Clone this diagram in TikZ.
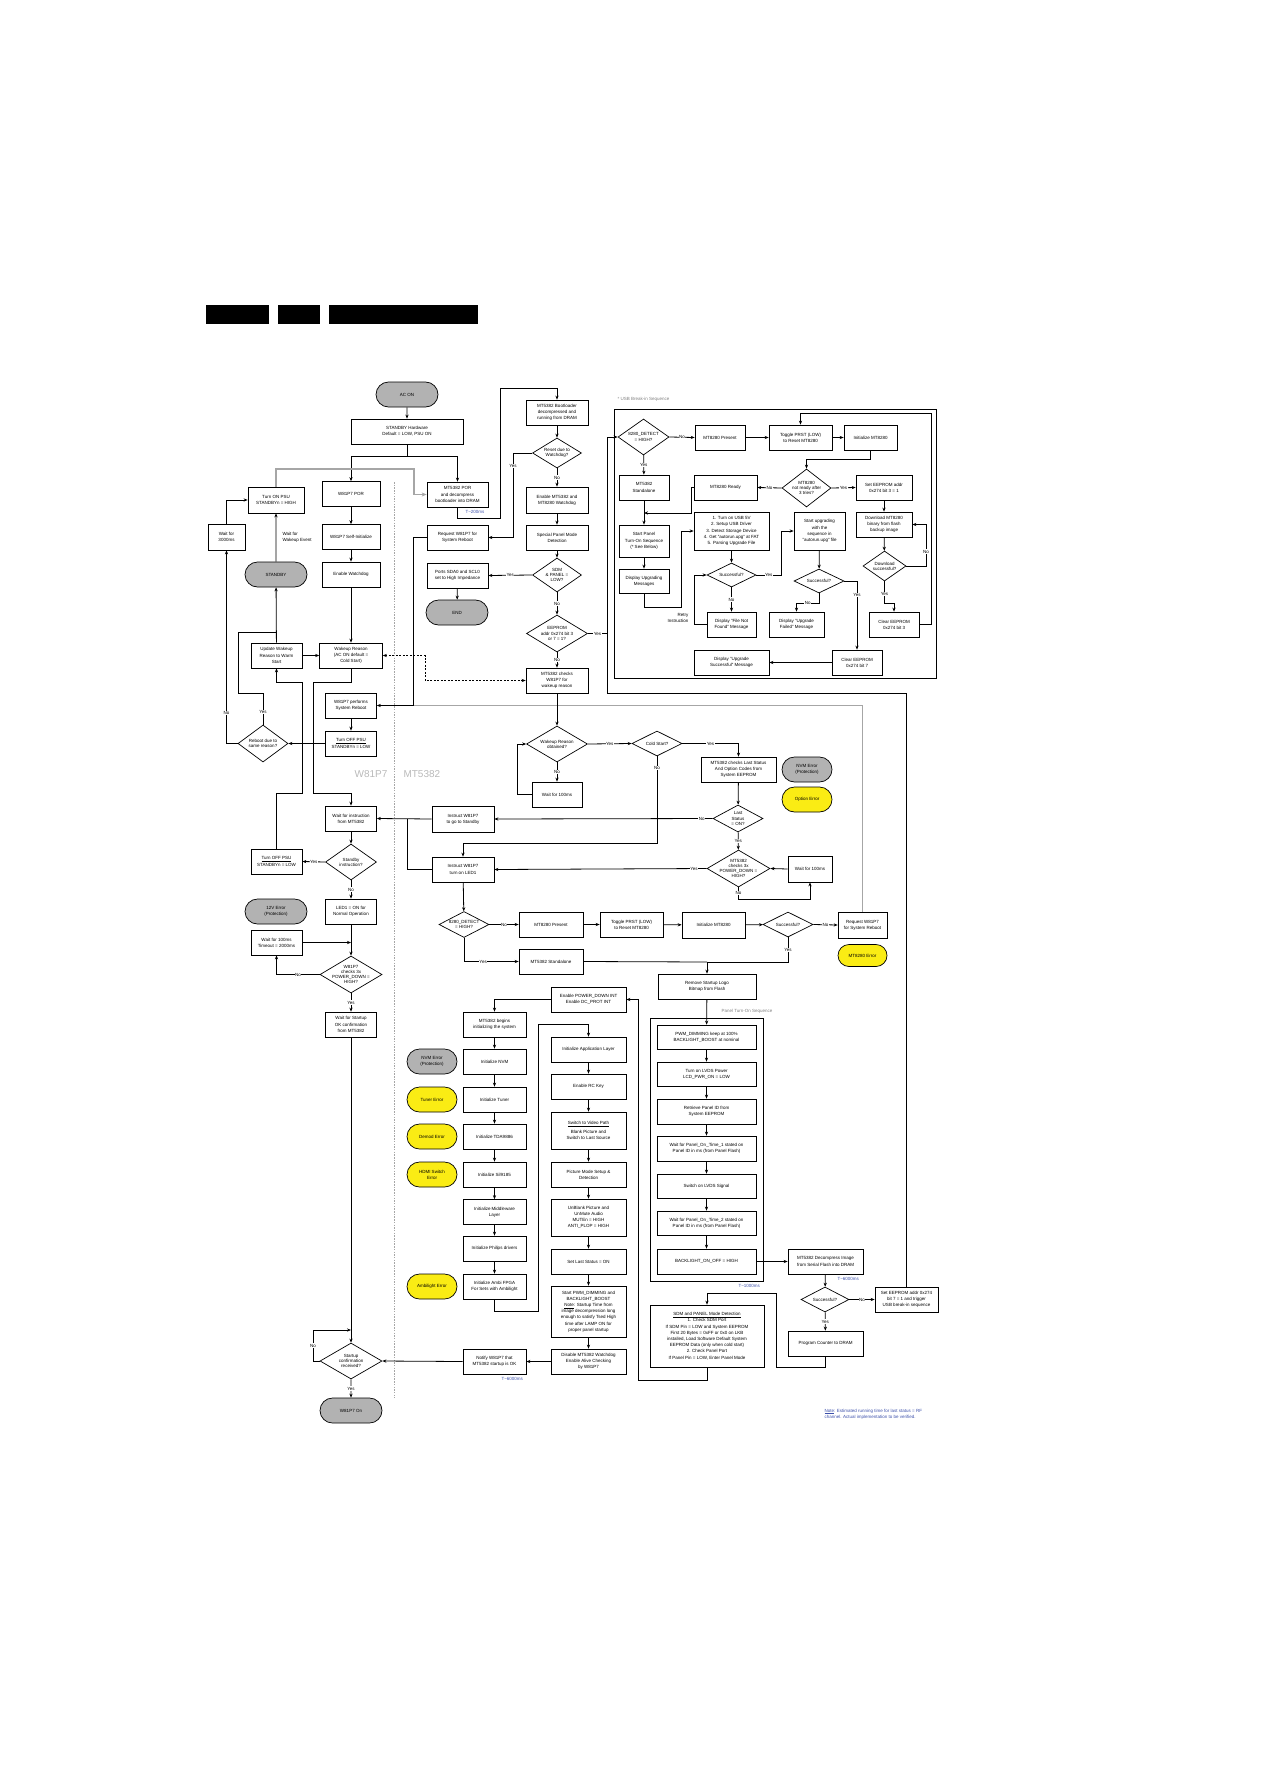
\documentclass[tikz,border=0pt]{standalone}
\usepackage{fontspec}
\setmainfont{Liberation Sans}
\usetikzlibrary{shapes.geometric,shapes.misc,arrows.meta}
\definecolor{tyel}{RGB}{250,236,20}
\definecolor{tblue}{RGB}{60,80,170}
\tikzset{
 every node/.style={font=\fontsize{4.5}{6.2}\selectfont},
 bx/.style={draw, line width=0.7pt, rectangle, inner sep=0pt, align=center, fill=white},
 tm/.style={draw, line width=0.7pt, rounded rectangle, inner sep=0pt, align=center, fill=gray!60},
 ty/.style={tm, fill=tyel},
 dm/.style={draw, line width=0.7pt, diamond, inner sep=0pt, fill=white},
 dl/.style={align=center, inner sep=0pt, font=\fontsize{4.5}{5.2}\selectfont},
 ln/.style={line width=0.8pt},
 ar/.style={ln, -{Stealth[length=4pt,width=3.2pt]}},
 yn/.style={fill=white, inner sep=0.5pt},
 gr/.style={line width=1.6pt, draw=gray!70},
 bl/.style={text=tblue, anchor=west},
}
\newcommand\bxn[6]{\node[bx,minimum width=#4pt,minimum height=#5pt] (#1) at (#2,#3) {#6};}
\newcommand\dmn[6]{\node[dm,minimum width=#4pt,minimum height=#5pt,label={[dl]center:{#6}}] (#1) at (#2,#3) {};}
\newcommand\tmn[7]{\node[#1,minimum width=#5pt,minimum height=#6pt] (#2) at (#3,#4) {#7};}
\begin{document}
\begin{tikzpicture}[x=1pt,y=-1pt]
\useasboundingbox (0,0) rectangle (1263,1787);
% header bars
\fill (206,305) rectangle (269,324);
\fill (278,305) rectangle (320,324);
\fill (329,305) rectangle (478,324);
% divider
\draw[gray!70, line width=0.6pt, dash pattern=on 1.5pt off 1.2pt] (394,482) -- (394,1398);
\node[font=\fontsize{10}{12}\selectfont, text=gray!55, anchor=east] (lw) at (391,774) {W81P7};
\node[font=\fontsize{10}{12}\selectfont, text=gray!55, anchor=west] (lm) at (400,774) {MT5382};
% frames
\draw[line width=0.8pt] (614,409) rectangle (936,678);
\node[text=gray, anchor=west] (lusb) at (614,399) {* USB Break-in Sequence};
\draw[line width=0.8pt] (650,1018) rectangle (763,1281);
\node[text=gray, anchor=west] (lpan) at (718,1011) {Panel Turn-On Sequence};

% ---------- W81P7 column
\tmn{tm}{acon}{407}{394.5}{62}{25}{AC ON}
\bxn{stdhw}{407}{431.5}{112}{25}{STANDBY Hardware\\Default = LOW, PSU ON}
\bxn{wpor}{351}{494}{58}{25}{W81P7 POR}
\bxn{wsi}{351}{537}{58}{25}{W81P7 Self-Initialize}
\bxn{ewd}{351}{574.5}{58}{25}{Enable Watchdog}
\bxn{ton}{276}{500}{56}{26}{Turn ON PSU\\STANDBYn = HIGH}
\bxn{w3000}{226.5}{537}{37}{26}{Wait for\\3000ms}
\tmn{tm}{stby}{276}{574.5}{62}{25}{STANDBY}
\node[align=left,anchor=west] (wwe) at (279,537.5) {Wait for\\Wakeup Event};
\bxn{mpor}{457.5}{494.5}{61}{25}{MT5382 POR\\and decompress\\bootloader into DRAM}
\node[bl] (t200) at (462,512) {T\textasciitilde200ms};
\bxn{rqr}{457.5}{537.5}{61}{25}{Request W81P7 for\\System Reboot}
\bxn{prt}{457.5}{575.5}{61}{25}{Ports SDA0 and SCL0\\set to High Impedance}
\tmn{tm}{endt}{457}{612.5}{62}{25}{END}
\bxn{boot}{557}{412.5}{62}{25}{MT5382 Bootloader\\decompressed and\\running from DRAM}
\dmn{rwd}{557}{453}{49}{30}{Reset due to\\Watchdog?}
\bxn{enwd}{557}{500}{62}{26}{Enable MT5382 and\\MT8280 Watchdog}
\bxn{spmd}{557}{537.5}{62}{25}{Special Panel Mode\\Detection}
\dmn{sdm}{557}{575}{49}{34}{SDM\\\& PANEL =\\LOW?}
\dmn{eep}{557}{633.5}{61}{37}{EEPROM\\addr 0x274 bit 3\\or 7 = 1?}
\bxn{chk}{557}{680.5}{62}{25}{MT5382 checks\\W81P7 for\\wakeup reason}
\bxn{upd}{276.5}{655.5}{51}{25}{Update Wakeup\\Reason to Warm\\Start}
\bxn{wkr}{351}{655.5}{63}{25}{Wakeup Reason\\(AC ON default =\\Cold Start)}
\bxn{perf}{351}{705.5}{51}{25}{W81P7 performs\\System Reboot}
\bxn{off1}{351}{743.5}{51}{25}{\underline{Turn OFF PSU}\\STANDBYn = LOW}
\dmn{rbd}{263}{743.5}{50}{37}{Reboot due to\\same reason?}
\bxn{wins}{351}{818.5}{51}{25}{Wait for instruction\\from MT5382}
\dmn{stq}{351}{862}{51}{36}{Standby\\instruction?}
\bxn{off2}{276.5}{861.5}{51}{25}{\underline{Turn OFF PSU}\\STANDBYn = LOW}
\bxn{led}{351}{911.5}{51}{25}{LED1 = ON for\\Normal Operation}
\tmn{tm}{e12}{276}{911.5}{62}{25}{12V Error\\(Protection)}
\bxn{w100a}{276.5}{942.5}{51}{25}{Wait for 100ms\\Timeout = 2000ms}
\dmn{pdq}{351}{974.5}{62}{37}{W81P7\\checks 3x\\POWER\_DOWN =\\HIGH?}
\bxn{wso}{351}{1024.5}{51}{25}{Wait for Startup\\OK confirmation\\from MT5382}
\dmn{scr}{351}{1361}{62}{36}{Startup\\confirmation\\received?}
\tmn{tm}{won}{351}{1410.5}{62}{25}{W81P7 On}

% ---------- USB break-in frame
\dmn{d1}{643.5}{437}{51}{36}{8280\_DETECT\\= HIGH?}
\bxn{pr1}{720}{437.5}{50}{25}{MT8280 Present}
\bxn{tg1}{800.5}{437.5}{63}{25}{Toggle PRST (LOW)\\to Reset MT8280}
\bxn{in1}{870.5}{437.5}{53}{25}{Initialize MT8280}
\dmn{nr}{806.5}{488}{49}{38}{MT8280\\not ready after\\3 tries?}
\bxn{rdy}{725.5}{487.5}{63}{25}{MT8280 Ready}
\bxn{se3}{884}{487.5}{56}{25}{Set EEPROM addr\\0x274 bit 3 = 1}
\bxn{dl}{884}{524.5}{56}{25}{Download MT8280\\binary from flash\\backup image}
\dmn{dlq}{884.5}{566}{43}{30}{Download\\successful?}
\bxn{cl3}{894}{624.5}{50}{25}{Clear EEPROM\\0x274 bit 3}
\bxn{sa1}{644}{487.5}{50}{25}{MT5382\\Standalone}
\bxn{spt}{644}{541}{50}{32}{Start Panel\\Turn-On Sequence\\(* See Below)}
\bxn{dum}{644}{581}{50}{24}{Display Upgrading\\Messages}
\bxn{usb}{731.5}{531}{75}{38}{1. Turn on USB 5V\\2. Setup USB Driver\\3. Detect Storage Device\\4. Get "autorun.upg" at FAT\\5. Parsing Upgrade File}
\dmn{sq1}{731.5}{575}{49}{24}{Successful?}
\bxn{fnf}{731.5}{624.5}{49}{25}{Display "File Not\\Found" Message}
\bxn{sup}{819.5}{531}{51}{38}{Start upgrading\\with the\\sequence in\\"autorun.upg" file}
\dmn{sq2}{819}{581}{50}{24}{Successful?}
\bxn{upf}{796.5}{624.5}{55}{25}{Display "Upgrade\\Failed" Message}
\bxn{cl7}{857}{662.5}{50}{25}{Clear EEPROM\\0x274 bit 7}
\bxn{ups}{731.5}{662.5}{75}{25}{Display "Upgrade\\Successful" Message}
\node[align=right,anchor=east] (retry) at (692,618) {Retry\\Instruction};

% ---------- middle
\dmn{wro}{557}{744}{61}{36}{Wakeup Reason\\obtained?}
\bxn{w100b}{557}{794.5}{50}{25}{Wait for 100ms}
\dmn{cold}{657}{743.5}{50}{25}{Cold Start?}
\bxn{lsc}{738.5}{769.5}{75}{25}{MT5382 checks Last Status\\And Option Codes from\\System EEPROM}
\tmn{tm}{nvm1}{807}{769.5}{50}{25}{NVM Error\\(Protection)}
\tmn{ty}{opt}{807}{799.5}{50}{25}{Option Error}
\dmn{lsq}{738}{818.5}{50}{27}{Last\\Status\\= ON?}
\bxn{ist}{463}{819}{62}{26}{Instruct W81P7\\to go to Standby}
\bxn{ild}{463}{869.5}{62}{25}{Instruct W81P7\\turn on LED1}
\dmn{pdm}{738.5}{868.5}{63}{37}{MT5382\\checks 3x\\POWER\_DOWN =\\HIGH?}
\bxn{w100c}{810}{869}{44}{26}{Wait for 100ms}
\dmn{d2}{464}{924.5}{50}{26}{8280\_DETECT\\= HIGH?}
\bxn{pr2}{551}{924.5}{64}{25}{MT8280 Present}
\bxn{tg2}{631.5}{924.5}{63}{25}{Toggle PRST (LOW)\\to Reset MT8280}
\bxn{in2}{713.5}{925}{63}{26}{Initialize MT8280}
\dmn{sq3}{788}{924.5}{50}{25}{Successful?}
\bxn{rq2}{862.5}{925}{49}{26}{Request W81P7\\for System Reboot}
\tmn{ty}{e80}{862.5}{955.5}{49}{22}{MT8280 Error}
\bxn{sa2}{551}{961.5}{64}{25}{MT5382 Standalone}
\bxn{rsl}{707}{986.5}{98}{25}{Remove Startup Logo\\Bitmap from Flash}
\bxn{epd}{588.5}{999.5}{75}{25}{Enable POWER\_DOWN INT\\Enable DC\_PROT INT}
\bxn{beg}{494.5}{1024.5}{63}{25}{MT5382 begins\\initializing the system}
\bxn{inv}{494.5}{1061.5}{63}{25}{Initialize NVM}
\bxn{itu}{494.5}{1099.5}{63}{25}{Initialize Tuner}
\bxn{itd}{494.5}{1136.5}{63}{25}{Initialize TDA9886}
\bxn{isi}{494.5}{1174.5}{63}{25}{Initialize Sil9185}
\bxn{imw}{494.5}{1212}{63}{25}{Initialize Middleware\\Layer}
\bxn{iph}{494.5}{1248.5}{63}{25}{Initialize Philips drivers}
\bxn{iam}{494.5}{1286.5}{63}{25}{Initialize Ambi FPGA\\For Sets with Ambilight}
\tmn{tm}{env}{432}{1061.5}{50}{25}{NVM Error\\(Protection)}
\tmn{ty}{etu}{432}{1099.5}{50}{25}{Tuner Error}
\tmn{ty}{ede}{432}{1136.5}{50}{25}{Demod Error}
\tmn{ty}{ehd}{432}{1174.5}{50}{25}{HDMI Switch\\Error}
\tmn{ty}{eam}{432}{1286.5}{50}{25}{Ambilight Error}
\bxn{app}{588.5}{1049.5}{75}{25}{Initialize Application Layer}
\bxn{rck}{588.5}{1086.5}{75}{25}{Enable RC Key}
\bxn{vid}{588.5}{1130.5}{75}{37}{\underline{Switch to Video Path}\\[3pt]Blank Picture and\\Switch to Last Source}
\bxn{pmd}{588.5}{1174.5}{75}{25}{Picture Mode Setup \&\\Detection}
\bxn{unb}{588.5}{1217.5}{75}{37}{UnBlank Picture and\\UnMute Audio\\MUTEn = HIGH\\ANTI\_PLOP = HIGH}
\bxn{sls}{588.5}{1261.5}{75}{25}{Set Last Status = ON}
\bxn{pwm}{588.5}{1311.5}{75}{51}{\fontsize{4.5}{6}\selectfont Start PWM\_DIMMING and\\BACKLIGHT\_BOOST\\\underline{Note}: Startup Time from\\image decompression long\\enough to satisfy Tsed High\\time after LAMP ON for\\proper panel startup}
\bxn{dis}{588.5}{1361.5}{75}{25}{Disable MT5382 Watchdog\\Enable Alive Checking\\by W81P7}
\bxn{ntf}{494.5}{1361.5}{63}{25}{Notify W81P7 that\\MT5382 startup is OK}
\node[bl] (t6a) at (498,1379) {T\textasciitilde6000ms};

% ---------- panel sequence
\bxn{p1}{706.5}{1037}{99}{24}{PWM\_DIMMING keep at 100\%\\BACKLIGHT\_BOOST at nominal}
\bxn{p2}{706.5}{1074}{99}{24}{Turn on LVDS Power\\LCD\_PWR\_ON = LOW}
\bxn{p3}{706.5}{1111.5}{99}{25}{Retrieve Panel ID from\\System EEPROM}
\bxn{p4}{706.5}{1148.5}{99}{25}{Wait for Panel\_On\_Time\_1 stated on\\Panel ID in ms (from Panel Flash)}
\bxn{p5}{706.5}{1186}{99}{24}{Switch on LVDS Signal}
\bxn{p6}{706.5}{1223}{99}{24}{Wait for Panel\_On\_Time\_2 stated on\\Panel ID in ms (from Panel Flash)}
\bxn{p7}{706.5}{1261.5}{99}{25}{BACKLIGHT\_ON\_OFF = HIGH}
\bxn{dec}{825.5}{1261.5}{75}{25}{MT5382 Decompress Image\\from Serial Flash into DRAM}
\node[bl] (t1k) at (735,1286) {T\textasciitilde1000ms};
\node[bl] (t6b) at (834,1279) {T\textasciitilde6000ms};
\dmn{sq4}{825}{1299.5}{48}{25}{Successful?}
\bxn{se7}{906.5}{1299.5}{63}{25}{Set EEPROM addr 0x274\\bit 7 = 1 and trigger\\USB break-in sequence}
\bxn{pc}{825.5}{1343.5}{75}{25}{Program Counter to DRAM}
\bxn{sdmd}{707}{1336}{114}{62}{\underline{SDM and PANEL Mode Detection}\\1. Check SDM Port\\If SDM Pin = LOW and System EEPROM\\First 20 Bytes = 0xFF or 0x0 on LKB\\installed, Load Software Default System\\EEPROM Data (only when cold start)\\2. Check Panel Port\\If Panel Pin = LOW, Enter Panel Mode}
\node[text=tblue,align=left,anchor=west] (note) at (821,1414) {\underline{Note}: Estimated running time for last status = RF\\channel. Actual implementation to be verified.};

% ---------- connectors (left)
\draw[ar] (acon) -- (stdhw);
\draw[ar] (stdhw.south) -- (407,456) -| (wpor.north);
\draw[ar] (stdhw.south) -- (407,456) -| (mpor.north);
\draw[gr,-{Stealth[length=5pt,width=4pt]}] (ton.north) -- (276,469) -- (414,469) -- (414,494.5) -- (mpor.west);
\draw[ar] (wpor) -- (wsi);
\draw[ar] (wsi) -- (ewd);
\draw[ar] (ewd) -- (wkr);
\draw[ar] (w3000.north) |- (ton.west);
\draw[ar] (stby) -- (ton);
\draw[ar] (upd) -- (stby);
\draw[ar] (upd) -- (wkr);
\draw[line width=0.6pt, dash pattern=on 2pt off 1.5pt, {Stealth[length=4pt,width=3.2pt]}-{Stealth[length=4pt,width=3.2pt]}] (wkr.east) -- (425,655.5) -- (425,680.5) -- (chk.west);
\draw[ar] (mpor.south) -- (457.5,518) -- (500,518) -- (500,388) -- (557,388) -- (boot.north);
\draw[ar] (boot) -- (rwd);
\draw[ar] (rwd) -- node[yn]{No} (enwd);
\draw[ar] (enwd) -- (spmd);
\draw[ar] (spmd) -- (sdm);
\draw[ar] (sdm) -- node[yn]{No} (eep);
\draw[ar] (eep) -- node[yn]{No} (chk);
\draw[ar] (rwd.west) -- (513,453) -- node[yn,pos=0.15]{Yes} (513,537.5) -- (rqr.east);
\draw[ar] (sdm.west) -- node[yn]{Yes} (prt.east);
\draw[ar] (prt) -- (endt);
\coordinate (j1) at (413,705.5);
\draw[gr] (rq2.north) -- (862.5,705.5) -- (j1);
\draw[ln] (rqr.west) -- (413,537.5) -- (j1);
\draw[ar] (j1) -- (perf.east);
\draw[ar] (perf) -- (off1);
\draw[ar] (off1.west) -- (rbd.east);
\draw[ar] (rbd.west) -| node[yn,pos=0.58]{No} (w3000.south);
\draw[ln] (rbd.north) -- node[yn,pos=0.4]{Yes} (263,693) -- (238,693) -- (238,632) -- (276.5,632);
\draw[ar] (wkr.south) -- (351,682) -- (313,682) -- (313,793) -- (351,793) -- (wins.north);
\draw[ar] (off2.north) -- (276.5,793) -- (302,793) -- (302,682) -- (276.5,682) -- (upd.south);
\draw[ar] (wins) -- (stq);
\draw[ar] (stq.west) -- node[yn]{Yes} (off2.east);
\draw[ar] (stq) -- node[yn]{No} (led);
\draw[ar] (led) -- (pdq);
\coordinate (j2) at (351,942.5);
\draw[ar] (w100a.east) -- (j2);
\draw[ar] (pdq.west) -| node[yn,pos=0.25]{No} (w100a.south);
\draw[ar] (pdq) -- node[yn]{Yes} (wso);
\draw[ar] (wso) -- (scr);
\coordinate (j3) at (351,1330);
\draw[ar] (scr.west) -- (313,1361) -- node[yn]{No} (313,1330) -- (j3);
\draw[ar] (scr) -- node[yn]{Yes} (won);
\draw[ar] (ntf.west) -- (scr.east);
\draw[ar] (ist.west) -- (wins.east);
\draw[ln] (ild.west) -- (407,869.5) -- (407,818.5);

% ---------- connectors (middle)
\draw[ar] (chk) -- (wro);
\draw[ar] (wro) -- node[yn]{No} (w100b);
\draw[ar] (w100b.west) -- (517,794.5) -- (517,744) -- (wro.west);
\draw[ar] (wro.east) -- node[yn]{Yes} (cold.west);
\draw[ar] (cold.east) -- node[yn]{Yes} (738.5,743.5) -- (lsc.north);
\draw[ar] (cold.south) -- node[yn,pos=0.13]{No} (657,843) -- (463,843) -- (ild.north);
\draw[ar] (lsc) -- (lsq);
\draw[ar] (lsq.west) -- node[yn,pos=0.05]{No} (ist.east);
\draw[ar] (lsq) -- node[yn]{Yes} (pdm);
\draw[ar] (pdm.west) -- node[yn,pos=0.06]{Yes} (ild.east);
\draw[ar] (pdm.south) -- node[yn,pos=0.5]{No} (738.5,899) -- (810,899) -- (w100c.south);
\draw[ar] (w100c.west) -- (pdm.east);
\draw[ar] (ild) -- (d2);
\draw[ar] (d2.east) -- node[yn]{No} (pr2.west);
\draw[ar] (pr2) -- (tg2);
\draw[ar] (tg2) -- (in2);
\draw[ar] (in2) -- (sq3);
\draw[ar] (sq3.east) -- node[yn]{No} (rq2.west);
\draw[ar] (sq3.south) -- node[yn]{Yes} (788,962) -- (707,962) -- (rsl.north);
\draw[ln] (sa2.east) -- (707,962);
\draw[ar] (d2.south) -- (464,961.5) -- node[yn,pos=0.35]{Yes} (sa2.west);
\draw[ar] (epd.west) -- (494.5,999.5) -- (beg.north);
\draw[ar] (beg) -- (inv);
\draw[ar] (inv) -- (itu);
\draw[ar] (itu) -- (itd);
\draw[ar] (itd) -- (isi);
\draw[ar] (isi) -- (imw);
\draw[ar] (imw) -- (iph);
\draw[ar] (iph) -- (iam);
\draw[ar] (iam.south) -- (494.5,1311) -- (538,1311) -- (538,1024) -- (588.5,1024) -- (app.north);
\draw[ar] (app) -- (rck);
\draw[ar] (rck) -- (vid);
\draw[ar] (vid) -- (pmd);
\draw[ar] (pmd) -- (unb);
\draw[ar] (unb) -- (sls);
\draw[ar] (sls) -- (pwm);
\draw[ar] (pwm) -- (dis);
\draw[ar] (dis) -- (ntf);

% ---------- connectors (right)
\draw[ar] (rsl) -- (p1);
\draw[ar] (p1) -- (p2);
\draw[ar] (p2) -- (p3);
\draw[ar] (p3) -- (p4);
\draw[ar] (p4) -- (p5);
\draw[ar] (p5) -- (p6);
\draw[ar] (p6) -- (p7);
\draw[ar] (p7) -- (dec);
\draw[ar] (dec) -- (sq4);
\draw[ar] (sq4.east) -- node[yn]{No} (se7.west);
\draw[ar] (sq4) -- node[yn]{Yes} (pc);
\draw[ar] (pc.south) -- (825.5,1367) -- (776,1367) -- (776,1293) -- (707,1293) -- (sdmd.north);
\draw[ar] (sdmd.south) -- (707,1380) -- (638,1380) -- (638,999.5) -- (epd.east);
\draw[ar] (se7.north) -- (906.5,693) -- (607,693) -- (607,437) -- (d1.west);
\draw[ln] (eep.east) -- node[yn]{Yes} (607,633.5);
\draw[ar] (d1.east) -- node[yn]{No} (pr1.west);
\draw[ar] (pr1) -- (tg1);
\draw[ar] (tg1) -- (in1);
\draw[ar] (in1.south) -- (870.5,459) -- (806.5,459) -- (nr.north);
\draw[ar] (nr.west) -- node[yn]{No} (rdy.east);
\draw[ar] (nr.east) -- node[yn]{Yes} (se3.west);
\draw[ar] (se3) -- (dl);
\draw[ar] (dl) -- (dlq);
\draw[ar] (dlq.east) -- (926,566) -- node[yn,pos=0.35]{No} (926,524.5) -- (dl.east);
\draw[ar] (dlq.south) -- node[yn,pos=0.6]{Yes} (884.5,603) -- (894,603) -- (cl3.north);
\draw[ar] (cl3.east) -- (931,624.5) -- (931,413) -- (800.5,413) -- (tg1.north);
\draw[ar] (d1) -- node[yn]{Yes} (sa1);
\draw[ar] (sa1) -- (spt);
\coordinate (j4) at (644,513);
\draw[ar] (rdy.west) -- (691,487.5) -- (691,513) -- (j4);
\draw[ar] (spt) -- (dum);
\draw[ar] (dum.south) -- (644,607) -- (681,607) -- (681,531) -- (usb.west);
\draw[ar] (usb) -- (sq1);
\draw[ar] (sq1) -- node[yn]{No} (fnf);
\draw[ar] (fnf.west) -- (694,624.5) -- (694,575) -- (sq1.west);
\draw[ar] (sq1.east) -- node[yn]{Yes} (781,575) -- (781,531) -- (sup.west);
\draw[ar] (sup) -- (sq2);
\draw[ar] (sq2.south) -- (819,603) -- node[yn]{No} (796.5,603) -- (upf.north);
\draw[ar] (sq2.east) -- (857,581) -- node[yn,pos=0.2]{Yes} (cl7.north);
\draw[ar] (cl7) -- (ups);
\end{tikzpicture}
\end{document}
